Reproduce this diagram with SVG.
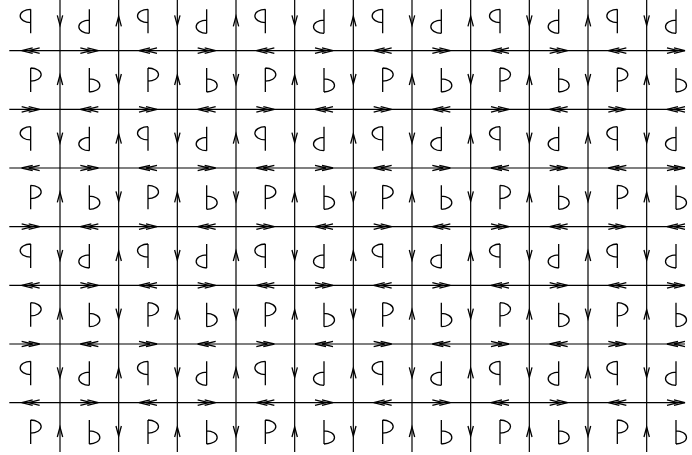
<svg xmlns="http://www.w3.org/2000/svg" xmlns:xlink="http://www.w3.org/1999/xlink" width="692" height="455" viewBox="0 0 692 455">
<style>
.s{fill:none;stroke:#000;stroke-width:1.3;stroke-linejoin:miter}
.l{stroke:#000;stroke-width:1.2}
</style>
<defs>
<path id="P" d="M0,-12 V12 M0,-12 A10.5,6.6 0 0 1 0,1.2"/>
<path id="dn" d="M-2.7,-6 L0,4 L2.7,-6"/>
<path id="up" d="M-2.7,5 L0,-5 L2.7,5"/>
<path id="rr" d="M-9,-2.7 L2,0 L-9,2.7 M-2,-2.7 L9,0 L-2,2.7"/>
<path id="ll" d="M9,-2.7 L-2,0 L9,2.7 M2,-2.7 L-9,0 L2,2.7"/>
<g id="rowA">
<use href="#P" transform="translate(30.67,0) scale(-1,1)"/>
<use href="#P" transform="translate(89.33,0) scale(-1,-1)"/>
<use href="#P" transform="translate(148,0) scale(-1,1)"/>
<use href="#P" transform="translate(206.67,0) scale(-1,-1)"/>
<use href="#P" transform="translate(265.33,0) scale(-1,1)"/>
<use href="#P" transform="translate(324,0) scale(-1,-1)"/>
<use href="#P" transform="translate(382.67,0) scale(-1,1)"/>
<use href="#P" transform="translate(441.33,0) scale(-1,-1)"/>
<use href="#P" transform="translate(500,0) scale(-1,1)"/>
<use href="#P" transform="translate(558.67,0) scale(-1,-1)"/>
<use href="#P" transform="translate(617.33,0) scale(-1,1)"/>
<use href="#P" transform="translate(676,0) scale(-1,-1)"/>
</g>
<g id="rowB">
<use href="#P" transform="translate(30.67,0)"/>
<use href="#P" transform="translate(89.33,0) scale(1,-1)"/>
<use href="#P" transform="translate(148,0)"/>
<use href="#P" transform="translate(206.67,0) scale(1,-1)"/>
<use href="#P" transform="translate(265.33,0)"/>
<use href="#P" transform="translate(324,0) scale(1,-1)"/>
<use href="#P" transform="translate(382.67,0)"/>
<use href="#P" transform="translate(441.33,0) scale(1,-1)"/>
<use href="#P" transform="translate(500,0)"/>
<use href="#P" transform="translate(558.67,0) scale(1,-1)"/>
<use href="#P" transform="translate(617.33,0)"/>
<use href="#P" transform="translate(676,0) scale(1,-1)"/>
</g>
<g id="vA">
<use href="#dn" x="60"/><use href="#up" x="118.67"/><use href="#dn" x="177.33"/><use href="#up" x="236"/><use href="#dn" x="294.67"/><use href="#up" x="353.33"/><use href="#dn" x="412"/><use href="#up" x="470.67"/><use href="#dn" x="529.33"/><use href="#up" x="588"/><use href="#dn" x="646.67"/>
</g>
<g id="vB">
<use href="#up" x="60"/><use href="#dn" x="118.67"/><use href="#up" x="177.33"/><use href="#dn" x="236"/><use href="#up" x="294.67"/><use href="#dn" x="353.33"/><use href="#up" x="412"/><use href="#dn" x="470.67"/><use href="#up" x="529.33"/><use href="#dn" x="588"/><use href="#up" x="646.67"/>
</g>
<g id="hA">
<use href="#ll" x="30.67"/><use href="#rr" x="89.33"/><use href="#ll" x="148"/><use href="#rr" x="206.67"/><use href="#ll" x="265.33"/><use href="#rr" x="324"/><use href="#ll" x="382.67"/><use href="#rr" x="441.33"/><use href="#ll" x="500"/><use href="#rr" x="558.67"/><use href="#ll" x="617.33"/><use href="#rr" x="676"/>
</g>
<g id="hB">
<use href="#rr" x="30.67"/><use href="#ll" x="89.33"/><use href="#rr" x="148"/><use href="#ll" x="206.67"/><use href="#rr" x="265.33"/><use href="#ll" x="324"/><use href="#rr" x="382.67"/><use href="#ll" x="441.33"/><use href="#rr" x="500"/><use href="#ll" x="558.67"/><use href="#rr" x="617.33"/><use href="#ll" x="676"/>
</g>
</defs>
<rect width="692" height="455" fill="#fff"/>
<g id="lines" class="l">
<line x1="60" y1="0" x2="60" y2="452"/>
<line x1="118.67" y1="0" x2="118.67" y2="452"/>
<line x1="177.33" y1="0" x2="177.33" y2="452"/>
<line x1="236" y1="0" x2="236" y2="452"/>
<line x1="294.67" y1="0" x2="294.67" y2="452"/>
<line x1="353.33" y1="0" x2="353.33" y2="452"/>
<line x1="412" y1="0" x2="412" y2="452"/>
<line x1="470.67" y1="0" x2="470.67" y2="452"/>
<line x1="529.33" y1="0" x2="529.33" y2="452"/>
<line x1="588" y1="0" x2="588" y2="452"/>
<line x1="646.67" y1="0" x2="646.67" y2="452"/>
<line x1="9.3" y1="50.67" x2="685" y2="50.67"/>
<line x1="9.3" y1="109.33" x2="685" y2="109.33"/>
<line x1="9.3" y1="168" x2="685" y2="168"/>
<line x1="9.3" y1="226.67" x2="685" y2="226.67"/>
<line x1="9.3" y1="285.33" x2="685" y2="285.33"/>
<line x1="9.3" y1="344" x2="685" y2="344"/>
<line x1="9.3" y1="402.67" x2="685" y2="402.67"/>
</g>
<g id="arrows" class="s">
<use href="#vA" y="21.33"/>
<use href="#vB" y="80"/>
<use href="#vA" y="138.67"/>
<use href="#vB" y="197.33"/>
<use href="#vA" y="256"/>
<use href="#vB" y="314.67"/>
<use href="#vA" y="373.33"/>
<use href="#vB" y="432"/>
<use href="#hA" y="50.67"/>
<use href="#hB" y="109.33"/>
<use href="#hA" y="168"/>
<use href="#hB" y="226.67"/>
<use href="#hA" y="285.33"/>
<use href="#hB" y="344"/>
<use href="#hA" y="402.67"/>
</g>
<g id="motifs" class="s">
<use href="#rowA" y="21.33"/>
<use href="#rowB" y="80"/>
<use href="#rowA" y="138.67"/>
<use href="#rowB" y="197.33"/>
<use href="#rowA" y="256"/>
<use href="#rowB" y="314.67"/>
<use href="#rowA" y="373.33"/>
<use href="#rowB" y="432"/>
</g>
</svg>
